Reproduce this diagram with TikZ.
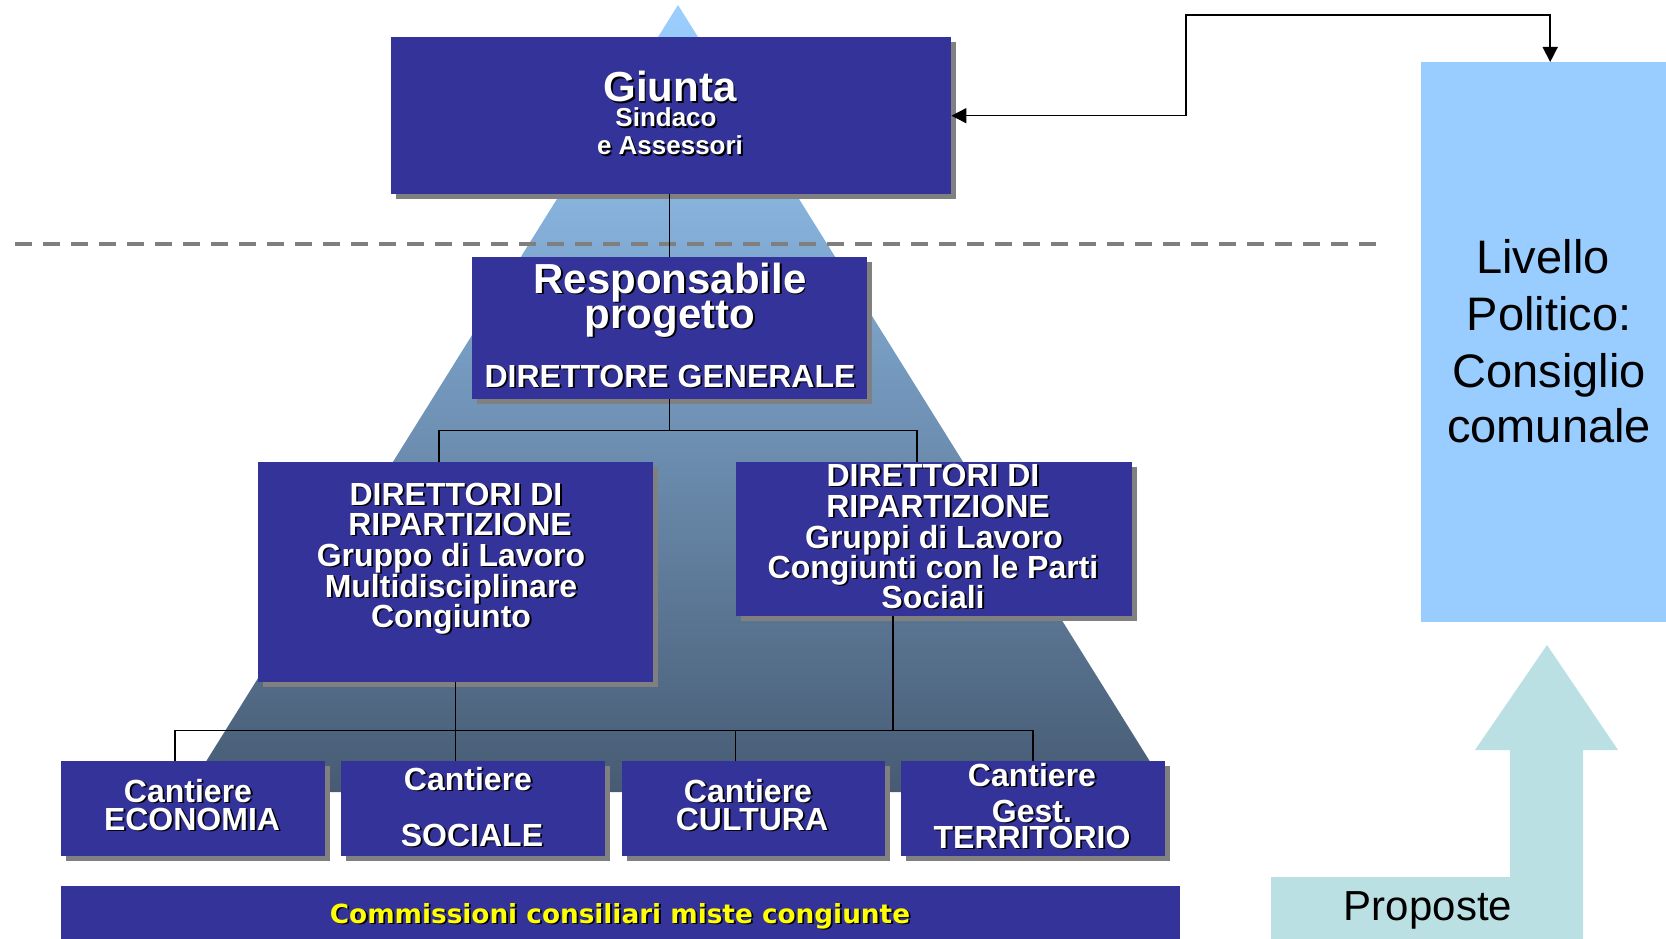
\documentclass[tikz,border=0pt]{standalone}
\usepackage{fontspec}
\setmainfont{Liberation Sans}
\newfontfamily\dejavu{DejaVu Sans}
\usetikzlibrary{shadows,arrows.meta}
\definecolor{boxblue}{HTML}{333399}
\definecolor{shadowgray}{HTML}{808080}
\definecolor{livblue}{HTML}{99CCFF}
\definecolor{propcyan}{HTML}{BBE0E3}
\definecolor{pyrtop}{HTML}{9CCFFF}
\definecolor{pyrbot}{HTML}{475B73}
\definecolor{dashgray}{HTML}{7F7F7F}
\definecolor{commyellow}{HTML}{FFFF00}
\newcommand\shd[1]{\rlap{\kern1.8pt\raisebox{-1.8pt}{\textcolor{black}{#1}}}#1}
\newcommand\bx[5]{\node[bluebox, minimum width=#4pt, minimum height=#5pt] (#1) at (#2,#3) {};}
\newcommand\tl[5]{\node[wline, font=\fontsize{#4}{#4}\selectfont\bfseries] (#1) at (#2,#3) {\shd{#5}};}
\begin{document}
\begin{tikzpicture}[x=1pt,y=-1pt,
  bluebox/.style={fill=boxblue, draw=none, anchor=north west, inner sep=0pt,
    drop shadow={shadow xshift=5pt, shadow yshift=-5pt, fill=shadowgray, opacity=1}},
  plainbox/.style={fill=boxblue, draw=none, anchor=north west, inner sep=0pt},
  wline/.style={anchor=base, inner sep=0pt, text=white},
  ltxt/.style={anchor=base, inner sep=0pt, text=black, font=\fontsize{47}{47}\selectfont},
  conn/.style={draw=black, line width=1.5pt},
  >={Triangle[length=15pt,width=15pt]}
]
\useasboundingbox (0,0) rectangle (1666,939);
% pyramid
\shade[top color=pyrtop, bottom color=pyrbot] (678,5) -- (187,792) -- (1169,792) -- cycle;
% dashed separator
\draw[dashgray, line width=3.5pt, dash pattern=on 17pt off 11pt] (15,244) -- (1376,244);
% boxes
\bx{giunta}{391}{37}{560}{157}
\bx{resp}{472}{257}{395}{142}
\bx{dirL}{258}{462}{395}{220}
\bx{dirR}{736}{462}{396}{154}
\bx{econ}{61}{761}{264}{95}
\bx{soc}{341}{761}{264}{95}
\bx{cult}{622}{761}{263}{95}
\bx{terr}{901}{761}{264}{95}
\node[plainbox, minimum width=1119pt, minimum height=53pt] (comm) at (61,886) {};
\node[fill=livblue, draw=none, anchor=north west, inner sep=0pt, minimum width=245pt, minimum height=560pt] (liv) at (1421,62) {};
% proposte arrow
\fill[propcyan] (1271,939) -- (1271,877) -- (1510,877) -- (1510,750) -- (1475,750) -- (1547,645) -- (1618,750) -- (1583,750) -- (1583,939) -- cycle;
% connectors
\draw[conn] (resp.north) -- (resp.north |- giunta.south);
\coordinate (j1) at ([yshift=-31pt]resp.south);
\draw[conn] (resp.south) -- (j1);
\draw[conn] ([xshift=-16.5pt]dirL.north) |- (j1) -| ([xshift=-17pt]dirR.north);
\coordinate (j2) at ([yshift=-48pt]dirL.south);
\draw[conn] (dirL.south) -- (dirL.south |- soc.north);
\draw[conn] ([xshift=-18pt]econ.north) |- (j2) -| (terr.north);
\draw[conn] ([xshift=-18pt]cult.north) -- ([xshift=-18pt]cult.north |- j2);
\draw[conn] ([xshift=-41pt]dirR.south) -- ([xshift=-41pt]dirR.south |- j2);
\coordinate (c1) at (1186,15);
\draw[conn, <->] (giunta.east) -| (c1) -| ([xshift=6.5pt]liv.north);
% texts
\tl{gT1}{670}{102}{42}{Giunta}
\tl{gT2}{666}{127}{26}{Sindaco}
\tl{gT3}{670}{155}{26}{e Assessori}
\tl{rT1}{670}{293}{42}{Responsabile}
\tl{rT2}{670}{328}{42}{progetto}
\tl{rT3}{670}{387}{32}{DIRETTORE GENERALE}
\tl{dlT1}{456}{505}{32}{DIRETTORI DI}
\tl{dlT2}{460}{535}{32}{RIPARTIZIONE}
\tl{dlT3}{451}{566}{32}{Gruppo di Lavoro}
\tl{dlT4}{451}{597}{32}{Multidisciplinare}
\tl{dlT5}{451}{627}{32}{Congiunto}
\tl{drT1}{933}{486}{32}{DIRETTORI DI}
\tl{drT2}{938}{517}{32}{RIPARTIZIONE}
\tl{drT3}{934}{548}{32}{Gruppi di Lavoro}
\tl{drT4}{933}{578}{32}{Congiunti con le Parti}
\tl{drT5}{933}{608}{32}{Sociali}
\tl{eT1}{188}{802}{32}{Cantiere}
\tl{eT2}{192}{830}{32}{ECONOMIA}
\tl{sT1}{468}{790}{32}{Cantiere}
\tl{sT2}{472}{846}{32}{SOCIALE}
\tl{cT1}{748}{802}{32}{Cantiere}
\tl{cT2}{752}{830}{32}{CULTURA}
\tl{tT1}{1032}{786}{32}{Cantiere}
\tl{tT2}{1032}{822}{32}{Gest.}
\tl{tT3}{1032}{848}{32}{TERRITORIO}
\node[wline, text=commyellow, font=\fontsize{26.3}{26.3}\selectfont\dejavu\bfseries] (commT) at (620,923) {\shd{Commissioni consiliari miste congiunte}};
\node[ltxt] (l1) at (1543,273) {Livello};
\node[ltxt] (l2) at (1549,330) {Politico:};
\node[ltxt] (l3) at (1549,387) {Consiglio};
\node[ltxt] (l4) at (1549,442) {comunale};
\node[ltxt, font=\fontsize{42}{42}\selectfont] (prop) at (1428,920) {Proposte};
\end{tikzpicture}
\end{document}
